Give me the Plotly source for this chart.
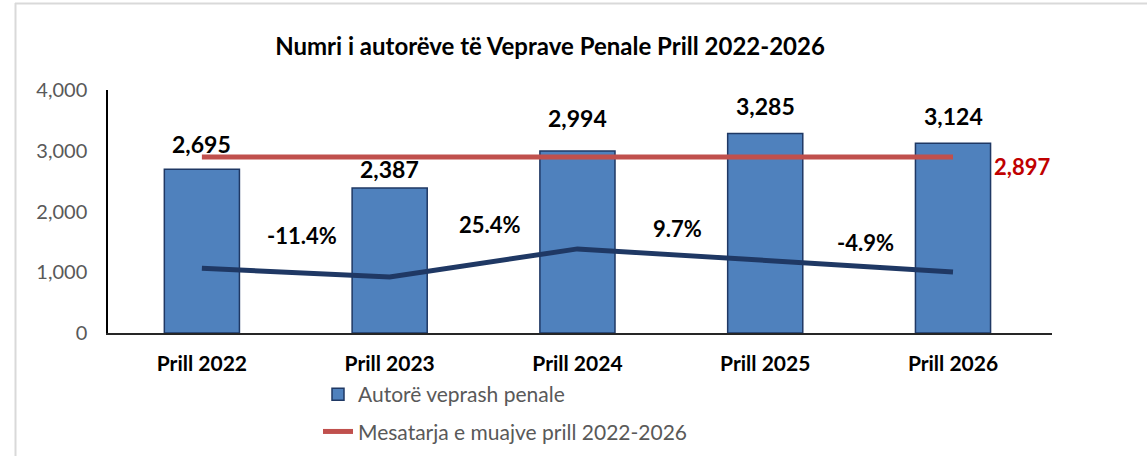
import plotly.graph_objects as go

# data
categories = ["Prill 2022", "Prill 2023", "Prill 2024", "Prill 2025", "Prill 2026"]
autore = [2695, 2387, 2994, 3285, 3124]
mesatarja = [2897, 2897, 2897, 2897, 2897]
ndryshimi = [0.0, -11.4, 25.4, 9.7, -4.9]          # % change vs previous april
ndryshimi_labels = ["-11.4%", "25.4%", "9.7%", "-4.9%"]
avg_label = "2,897"

FONT = "Lato"
BAR_FILL = "#4f81bd"
BAR_EDGE = "#1f3864"
RED = "#c0504d"
NAVY = "#1f3864"

# plot area in px (used for the outer border shapes)
L, R, T, B = 108, 95, 90, 123
W, H = 1147, 456
pw, ph = W - L - R, H - T - B

fig = go.Figure()

fig.add_trace(go.Bar(
    x=categories, y=autore, name="Autorë veprash penale", legendgroup="a",
    marker=dict(color=BAR_FILL, line=dict(color=BAR_EDGE, width=1.5)),
    width=0.4,
))
fig.add_trace(go.Scatter(
    x=categories, y=mesatarja, name="Mesatarja e muajve prill 2022-2026",
    legendgroup="b", mode="lines", line=dict(color=RED, width=5),
))
fig.add_trace(go.Scatter(
    x=categories, y=ndryshimi, yaxis="y2", showlegend=False,
    mode="lines", line=dict(color=NAVY, width=5),
))

annotations = []
# value labels above bars
bar_label_shift = [25, 19, 33, 27, 27]
for i, v in enumerate(autore):
    annotations.append(dict(
        x=categories[i], y=v, xref="x", yref="y", text=f"{v:,}",
        showarrow=False, yanchor="middle", yshift=bar_label_shift[i],
        font=dict(family=FONT, size=23, color="black", weight="bold"),
    ))
# percentage labels between the bars
pct_label_y = [1613, 1794, 1728, 1498]
for i, t in enumerate(ndryshimi_labels):
    annotations.append(dict(
        x=i + 0.5, y=pct_label_y[i], xref="x", yref="y", text=t,
        showarrow=False, xshift=6, yanchor="middle",
        font=dict(family=FONT, size=22, color="black", weight="bold"),
    ))
# average label
annotations.append(dict(
    x=categories[-1], y=mesatarja[-1], xref="x", yref="y", text=avg_label,
    showarrow=False, xanchor="left", yanchor="middle", xshift=39, yshift=-9,
    font=dict(family=FONT, size=22, color="#c00000", weight="bold"),
))

border = "#d9d9d9"
shapes = [
    dict(type="line", xref="paper", yref="paper",
         x0=(15 - L) / pw, x1=(W - L) / pw, y0=(H - B - 3.5) / ph, y1=(H - B - 3.5) / ph,
         line=dict(color=border, width=2)),
    dict(type="line", xref="paper", yref="paper",
         x0=(15.5 - L) / pw, x1=(15.5 - L) / pw, y0=(H - B - 3) / ph, y1=(H - B - H) / ph,
         line=dict(color=border, width=2)),
]

fig.update_layout(
    width=W, height=H,
    margin=dict(l=L, r=R, t=T, b=B, autoexpand=False),
    paper_bgcolor="white", plot_bgcolor="white",
    font=dict(family=FONT, color="#595959"),
    title=dict(
        text="<b>Numri i autorëve të Veprave Penale Prill 2022-2026</b>",
        x=550 / W, xanchor="center", y=1 - 47 / H, yanchor="middle",
        font=dict(family=FONT, size=24, color="black"),
    ),
    xaxis=dict(
        showline=True, linecolor="#262626", linewidth=2, ticks="",
        showgrid=False, ticklabelstandoff=11,
        tickfont=dict(family=FONT, size=21, color="black", weight="bold"),
    ),
    yaxis=dict(
        range=[0, 4000], tickvals=[0, 1000, 2000, 3000, 4000], tickformat=",",
        showline=True, linecolor="black", linewidth=1.5, showgrid=False,
        zeroline=False, ticks="", ticklabelstandoff=15,
        tickfont=dict(family=FONT, size=20, color="#595959"),
    ),
    yaxis2=dict(
        overlaying="y", side="right", range=[-85, 234], visible=False,
    ),
    legend=dict(
        xref="container", yref="container",
        x=318 / W, y=1 - 374 / H, xanchor="left", yanchor="top",
        orientation="v", tracegroupgap=7, itemwidth=30,
        font=dict(family=FONT, size=21, color="#595959"),
        bgcolor="rgba(0,0,0,0)",
    ),
    bargap=0.6,
    annotations=annotations,
    shapes=shapes,
)

fig.write_html("out.html", config={"displayModeBar": False},
               post_script="document.body.style.margin='0';")
